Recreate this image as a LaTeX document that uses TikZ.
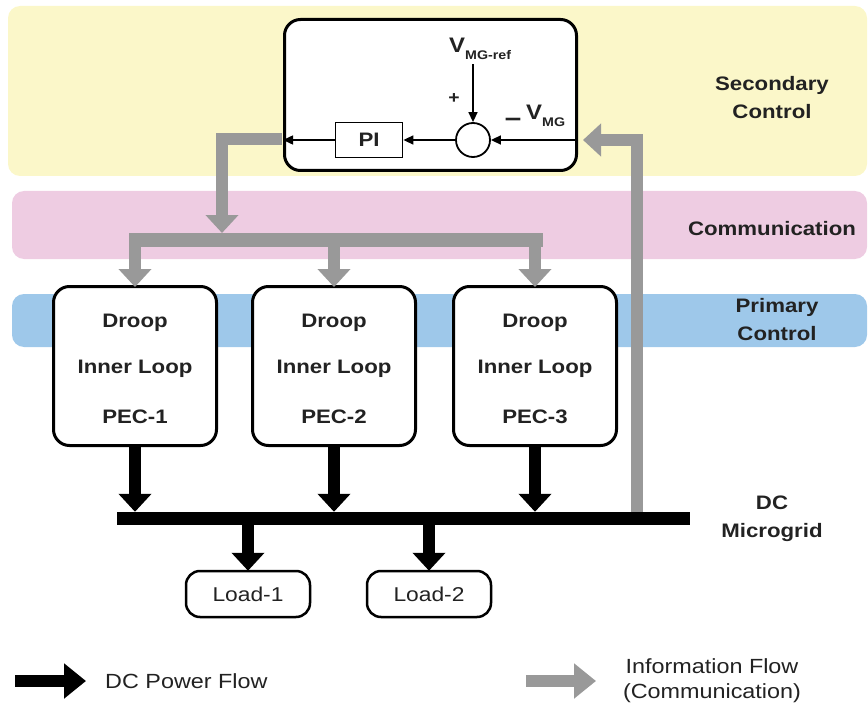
\documentclass[tikz,border=0pt]{standalone}
\usepackage{fontspec}
\setmainfont{Liberation Sans}[FakeStretch=1.14]
\usetikzlibrary{arrows.meta}
\definecolor{secband}{HTML}{FBF7C9}
\definecolor{comband}{HTML}{EECCE2}
\definecolor{priband}{HTML}{9EC8EA}
\definecolor{infogray}{HTML}{999999}
\definecolor{ink}{HTML}{222222}
\begin{document}
\begin{tikzpicture}[x=1pt,y=-1pt,
  band/.style={draw=none,rounded corners=12pt},
  ctrl/.style={draw=black,line width=3pt,rounded corners=16pt,fill=white,inner sep=0pt},
  loadbox/.style={draw=black,line width=2.5pt,rounded corners=14pt,fill=white,
    minimum width=124pt,minimum height=46pt,inner sep=0pt,
    font=\fontsize{20}{24}\selectfont,text=ink},
  lab/.style={font=\bfseries\fontsize{19.5}{28}\selectfont,text=ink,align=center,inner sep=0pt},
  note/.style={font=\fontsize{20.5}{25}\selectfont,text=ink,align=center,inner sep=0pt},
  pwr/.style={draw=black,line width=12pt,-{Triangle[width=32pt,length=18pt]}},
  info/.style={draw=infogray,line width=12pt,line join=miter,-{Triangle[width=32pt,length=18pt]}},
  sig/.style={draw=black,line width=1.5pt,-{Triangle[width=9pt,length=10pt]}},
  legpwr/.style={draw=black,line width=12pt,-{Triangle[width=34pt,length=22pt]}},
  leginfo/.style={draw=infogray,line width=12pt,-{Triangle[width=34pt,length=22pt]}}]
\useasboundingbox (0,0) rectangle (868,706);

% control-layer bands
\fill[band,secband] (8,6) rectangle (867,176);
\fill[band,comband] (12,191) rectangle (867,259);
\fill[band,priband] (12,294) rectangle (867,347);

% layer labels (base anchor sits on the last line)
\node[lab,anchor=base] (lsec) at (772,119) {Secondary\\Control};
\node[lab,anchor=base] (lcom) at (772,236) {Communication};
\node[lab,anchor=base] (lpri) at (777,340) {Primary\\Control};
\node[lab,anchor=base] (ldc) at (772,537) {DC\\Microgrid};

% distribution bar of the communication layer and the DC bus
\node[fill=infogray,inner sep=0pt,minimum width=414pt,minimum height=14pt] (bar) at (336,240) {};
\node[fill=black,inner sep=0pt,minimum width=573pt,minimum height=13pt] (bus) at (403.5,518.5) {};
\coordinate (split) at (222,233);
\coordinate (tap) at (637,512);

% secondary controller box (positions only, drawn after the grey links)
\coordinate (secc) at (430.5,95);
\coordinate (sumc) at (473,140);

% grey information links
\draw[info] (282,139) -| (split);
\draw[info] (tap) |- (583,140);

% secondary controller
\node[ctrl,minimum width=292pt,minimum height=151pt] (sec) at (secc) {};
\node[draw=black,line width=1.8pt,fill=white,minimum width=67pt,minimum height=35pt,
  inner sep=0pt,font=\bfseries\fontsize{19.5}{24}\selectfont,text=ink] (pi) at (369,140) {PI};
\node[circle,draw=black,line width=1.8pt,fill=white,minimum size=34pt,inner sep=0pt] (sum) at (sumc) {};
\node[anchor=base west,inner sep=0pt,text=ink] (vref) at (449,53)
  {\bfseries\fontsize{21}{24}\selectfont V\raisebox{-7pt}{\fontsize{12.5}{14}\selectfont MG-ref}};
\node[anchor=base west,inner sep=0pt,text=ink] (vmg) at (526,120)
  {\bfseries\fontsize{21}{24}\selectfont V\raisebox{-7pt}{\fontsize{12.5}{14}\selectfont MG}};
\node[inner sep=0pt,text=ink,font=\bfseries\fontsize{17}{20}\selectfont] (plus) at (454,99) {+};
\node[inner sep=0pt,text=ink,font=\bfseries\fontsize{26}{28}\selectfont] (minus) at (513,122) {–};

\draw[sig] (sum.north |- vref.south) ++(0,4) -- (sum.north);
\draw[sig] (sum -| sec.east) -- (sum.east);
\draw[sig] (sum.west) -- (pi.east);
\draw[sig] (pi.west) -- (pi -| sec.west);

% primary converters
\foreach \i/\x in {1/135,2/334,3/535}{
  \node[ctrl,minimum width=163pt,minimum height=159pt] (pec\i) at (\x,366) {};
  \node[lab,anchor=base] (droop\i) at (\x,327) {Droop};
  \node[lab,anchor=base] (inner\i) at (\x,373) {Inner Loop};
  \node[lab,anchor=base] (name\i) at (\x,423) {PEC-\i};
  \draw[info] (bar.south -| pec\i.north) -- ([yshift=-2pt]pec\i.north);
  \draw[pwr] (pec\i.south) -- (pec\i.south |- bus.north);
}

% loads
\node[loadbox] (load1) at (248,594) {Load-1};
\node[loadbox] (load2) at (429,594) {Load-2};
\draw[pwr] (bus.south -| load1.north) -- ([yshift=-1pt]load1.north);
\draw[pwr] (bus.south -| load2.north) -- ([yshift=-1pt]load2.north);

% legend
\coordinate (lpa) at (15,681);
\coordinate (lpb) at (86,681);
\coordinate (lia) at (526,681);
\coordinate (lib) at (596,681);
\draw[legpwr] (lpa) -- (lpb);
\draw[leginfo] (lia) -- (lib);
\node[note,anchor=base west] (lgp) at (105,688) {DC Power Flow};
\node[note,anchor=base] (lgi) at (712,698) {Information Flow\\(Communication)};
\end{tikzpicture}
\end{document}
